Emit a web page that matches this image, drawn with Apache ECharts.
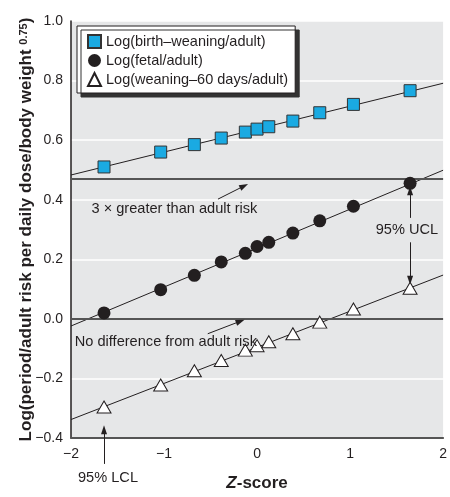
<!DOCTYPE html>
<html>
<head>
<meta charset="utf-8">
<script src="https://cdn.jsdelivr.net/npm/echarts@6/dist/echarts.min.js"></script>
<style>
  html, body { margin: 0; padding: 0; background: #fff; }
  #chart { width: 450px; height: 497px; }
</style>
</head>
<body>
<div id="chart"></div>
<script>
// z-scores of the points (5th ... 95th percentile)
const zScores = [-1.645, -1.036, -0.674, -0.385, -0.126, 0, 0.126, 0.385, 0.674, 1.036, 1.645];
const birthWeaning = [0.51, 0.56, 0.585, 0.607, 0.627, 0.637, 0.645, 0.664, 0.692, 0.72, 0.766];
const fetal = [0.02, 0.098, 0.146, 0.191, 0.22, 0.243, 0.257, 0.288, 0.329, 0.378, 0.455];
const weaning60 = [-0.296, -0.222, -0.174, -0.14, -0.105, -0.09, -0.077, -0.05, -0.011, 0.033, 0.103];

// fitted lines, value at z = -2 and z = 2
const fitBirth = [0.483, 0.791];
const fitFetal = [-0.024, 0.499];
const fitWeaning = [-0.338, 0.147];
const fitEnds = [-2, 2];

// horizontal reference lines: 3x adult risk, no difference
const refLines = [0.466, 0];

const seriesNames = ['Log(birth\u2013weaning/adult)', 'Log(fetal/adult)', 'Log(weaning\u201360 days/adult)'];

// arrows [x1, y1, x2, y2] in data units
const arrows = [
  [-0.42, 0.402, -0.14, 0.446],
  [1.645, 0.339, 1.645, 0.43],
  [1.645, 0.257, 1.645, 0.13],
  [-0.53, -0.05, -0.18, -0.008],
  [-1.645, -0.487, -1.645, -0.372]
];
// notes [text, x, y, align]
const notes = [
  ['3 \u00d7 greater than adult risk', -1.78, 0.369, 'left'],
  ['95% UCL', 1.947, 0.297, 'right'],
  ['No difference from adult risk', -1.96, -0.076, 'left'],
  ['95% LCL', -1.925, -0.533, 'left']
];

const FONT = '"Liberation Sans Narrow", "Arial Narrow", sans-serif';
const INK = '#231f20';

const pairs = (xs, ys) => xs.map((x, i) => [x, ys[i]]);
const minus = v => (v < 0 ? '\u2212' + Math.abs(v) : String(v));

const chart = echarts.init(document.getElementById('chart'));

const option = {
  animation: false,
  grid: {
    left: 71, right: 1, top: 21, bottom: 53,
    show: true, backgroundColor: '#e6e7e8', borderWidth: 0
  },
  legend: {
    orient: 'vertical',
    left: 77, top: 26,
    data: seriesNames,
    backgroundColor: '#fff',
    borderColor: INK, borderWidth: 1,
    shadowColor: '#333', shadowBlur: 0, shadowOffsetX: 4, shadowOffsetY: 4,
    padding: [8, 7, 6, 10],
    itemGap: 4,
    itemWidth: 13, itemHeight: 13,
    itemTextGap: 5,
    textStyle: { fontFamily: FONT, fontSize: 14.5, color: INK }
  },
  xAxis: {
    type: 'value', min: -2, max: 2, interval: 1,
    name: '{i|Z}{b|-score}',
    nameLocation: 'middle', nameGap: 37, nameMoveOverlap: false,
    nameTextStyle: {
      rich: {
        i: { fontFamily: FONT, fontSize: 17, fontWeight: 'bold', fontStyle: 'italic', color: INK },
        b: { fontFamily: FONT, fontSize: 17, fontWeight: 'bold', color: INK }
      }
    },
    axisLine: { onZero: false, lineStyle: { color: '#555', width: 2 } },
    axisTick: { show: false },
    splitLine: { show: false },
    axisLabel: { fontFamily: FONT, fontSize: 14, color: INK, margin: 9, formatter: minus }
  },
  yAxis: {
    type: 'value', min: -0.4, max: 1.0, interval: 0.2,
    name: '{b|Log(period/adult risk per daily dose/body weight }{s|0.75}{b|)}',
    nameLocation: 'middle', nameGap: 36, nameMoveOverlap: false,
    nameTextStyle: {
      rich: {
        b: { fontFamily: FONT, fontSize: 17, fontWeight: 'bold', color: INK },
        s: { fontFamily: FONT, fontSize: 11, fontWeight: 'bold', color: INK, verticalAlign: 'top', padding: [0, 0, 6, 0] }
      }
    },
    axisLine: { show: true, onZero: false, lineStyle: { color: INK, width: 1.5 } },
    axisTick: { show: false },
    splitLine: { show: true, lineStyle: { color: '#fff', width: 1.5 } },
    axisLabel: {
      fontFamily: FONT, fontSize: 14, color: INK, margin: 8,
      formatter: v => minus(v.toFixed(1))
    }
  },
  series: [
    {
      type: 'line', name: 'fit1', data: pairs(fitEnds, fitBirth),
      symbol: 'none', lineStyle: { color: INK, width: 1 }, silent: true, z: 2
    },
    {
      type: 'line', name: 'fit2', data: pairs(fitEnds, fitFetal),
      symbol: 'none', lineStyle: { color: INK, width: 1 }, silent: true, z: 2
    },
    {
      type: 'line', name: 'fit3', data: pairs(fitEnds, fitWeaning),
      symbol: 'none', lineStyle: { color: INK, width: 1 }, silent: true, z: 2,
      markLine: {
        silent: true, symbol: 'none', label: { show: false },
        lineStyle: { color: '#555', width: 2, type: 'solid' },
        data: refLines.map(v => ({ yAxis: v }))
      }
    },
    {
      id: 'arrows', type: 'line', name: 'arrows', data: [], clip: false, silent: true
    },
    {
      type: 'scatter', name: seriesNames[0], data: pairs(zScores, birthWeaning),
      symbol: 'rect', symbolSize: 12, z: 5,
      itemStyle: { color: '#1aaae2', borderColor: '#333', borderWidth: 1, opacity: 1 }
    },
    {
      type: 'scatter', name: seriesNames[1], data: pairs(zScores, fetal),
      symbol: 'circle', symbolSize: 13, z: 5,
      itemStyle: { color: INK, opacity: 1 }
    },
    {
      type: 'scatter', name: seriesNames[2], data: pairs(zScores, weaning60),
      symbol: 'triangle', symbolSize: [14, 12], z: 5,
      itemStyle: { color: '#fff', borderColor: INK, borderWidth: 1, opacity: 1 }
    }
  ]
};

chart.setOption(option);

// annotations: place via the grid's own scale (some points lie below the axis range)
const toPx = (x, y) => chart.convertToPixel({ gridIndex: 0 }, [x, y]);

const arrowData = arrows.map(a => {
  const p1 = toPx(a[0], a[1]);
  const p2 = toPx(a[2], a[3]);
  return [{ x: p1[0], y: p1[1] }, { x: p2[0], y: p2[1] }];
});

const graphic = notes.map(n => {
  const p = toPx(n[1], n[2]);
  return {
    type: 'text', x: p[0], y: p[1], z: 10,
    style: {
      text: n[0], fontFamily: FONT, fontSize: 14.6, fill: INK,
      align: n[3], verticalAlign: 'middle'
    }
  };
});

chart.setOption({
  graphic: graphic,
  series: [{
    id: 'arrows',
    markLine: {
      silent: true, symbol: ['none', 'triangle'], symbolSize: [6, 9],
      label: { show: false },
      lineStyle: { color: INK, width: 1, type: 'solid' },
      data: arrowData
    }
  }]
});
</script>
</body>
</html>
